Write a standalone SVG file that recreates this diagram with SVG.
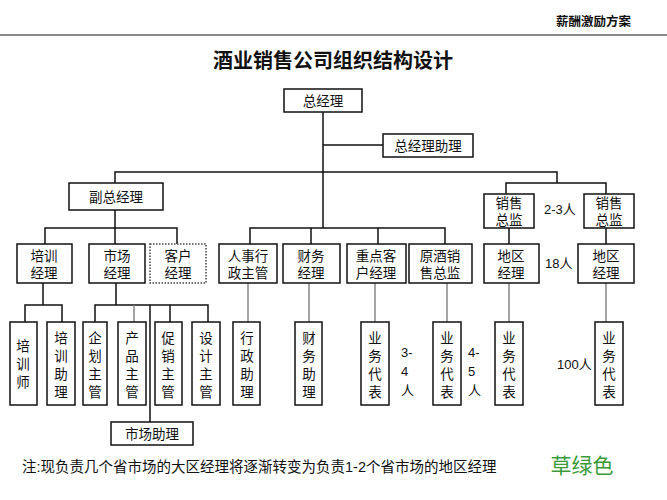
<svg xmlns="http://www.w3.org/2000/svg" width="667" height="500" viewBox="0 0 667 500">
<style>
rect{fill:#fff;stroke:#111;stroke-width:1.5}
.d{stroke-dasharray:1.5 1.5;stroke:#444}
text{font-family:"Liberation Sans","Noto Sans CJK SC",sans-serif;font-size:13.5px;fill:#111;text-anchor:middle}
.l{stroke:#111;stroke-width:1.5;fill:none}
.g{stroke:#888;stroke-width:1.5;fill:none}
.n{font-size:13px;text-anchor:start}
</style>
<rect x="0" y="0" width="667" height="500" style="stroke:none"/>
<text x="556" y="26" style="font-size:12.5px;font-weight:bold;text-anchor:start">薪酬激励方案</text>
<line x1="0" y1="35" x2="667" y2="35" class="l" style="stroke-width:1"/>
<text x="333" y="68" style="font-size:20px;font-weight:bold">酒业销售公司组织结构设计</text>
<g id="connectors">
<path class="l" d="M323 112V228M323 145H383M115 183V172H557V183M506 194V183H606V194M250 244V228H445V244M311 228V244M378 228V244"/>
<path class="l" d="M115 210V228M45 244V228H177V244M115 228V244M509 228V244M606 228V244"/>
<path class="l" d="M43 283V305M25 322V305H62V322M116 283V305M95 322V305H208V322M170 305V322M150 305V422"/>
<path class="g" d="M134 305V322M248 283V322M309 283V322M375 283V322M447 283V322M509 283V322M606 283V322"/>
</g>
<g id="n0"><rect x="284" y="89" width="78" height="23"/><text x="323" y="106">总经理</text></g>
<g id="n1"><rect x="383" y="134" width="90" height="23"/><text x="428" y="151">总经理助理</text></g>
<g id="n2"><rect x="69" y="183" width="94" height="27"/><text x="116" y="202">副总经理</text></g>
<g id="n3"><rect x="484" y="194" width="50" height="34"/><text x="509" y="208">销售</text><text x="509" y="225">总监</text></g>
<g id="n4"><rect x="584" y="194" width="50" height="34"/><text x="609" y="208">销售</text><text x="609" y="225">总监</text></g>
<text class="n" x="544" y="214">2-3人</text>
<g id="n5"><rect x="17" y="244" width="55" height="39"/><text x="44" y="261">培训</text><text x="44" y="278">经理</text></g>
<g id="n6"><rect x="89" y="244" width="56" height="39"/><text x="117" y="261">市场</text><text x="117" y="278">经理</text></g>
<g id="n7"><rect class="d" x="150" y="244" width="56" height="39"/><text x="178" y="261">客户</text><text x="178" y="278">经理</text></g>
<g id="n8"><rect x="219" y="244" width="58" height="39"/><text x="248" y="261">人事行</text><text x="248" y="278">政主管</text></g>
<g id="n9"><rect x="283" y="244" width="57" height="39"/><text x="311" y="261">财务</text><text x="311" y="278">经理</text></g>
<g id="n10"><rect x="347" y="244" width="59" height="39"/><text x="376" y="261">重点客</text><text x="376" y="278">户经理</text></g>
<g id="n11"><rect x="409" y="244" width="63" height="39"/><text x="440" y="261">原酒销</text><text x="440" y="278">售总监</text></g>
<g id="n12"><rect x="484" y="244" width="55" height="39"/><text x="511" y="261">地区</text><text x="511" y="278">经理</text></g>
<g id="n13"><rect x="578" y="244" width="56" height="39"/><text x="606" y="261">地区</text><text x="606" y="278">经理</text></g>
<text class="n" x="545" y="268">18人</text>
<g id="n14"><rect x="10" y="322" width="27" height="83"/><text x="23" y="351">培</text><text x="23" y="369">训</text><text x="23" y="387">师</text></g>
<g id="n15"><rect x="47" y="322" width="28" height="83"/><text x="61" y="343">培</text><text x="61" y="361">训</text><text x="61" y="379">助</text><text x="61" y="397">理</text></g>
<g id="n16"><rect x="83" y="322" width="24" height="83"/><text x="95" y="343">企</text><text x="95" y="361">划</text><text x="95" y="379">主</text><text x="95" y="397">管</text></g>
<g id="n17"><rect x="118" y="322" width="28" height="83"/><text x="132" y="343">产</text><text x="132" y="361">品</text><text x="132" y="379">主</text><text x="132" y="397">管</text></g>
<g id="n18"><rect x="155" y="322" width="27" height="83"/><text x="168" y="343">促</text><text x="168" y="361">销</text><text x="168" y="379">主</text><text x="168" y="397">管</text></g>
<g id="n19"><rect x="192" y="322" width="28" height="83"/><text x="206" y="343">设</text><text x="206" y="361">计</text><text x="206" y="379">主</text><text x="206" y="397">管</text></g>
<g id="n20"><rect x="233" y="322" width="27" height="83"/><text x="247" y="343">行</text><text x="247" y="361">政</text><text x="247" y="379">助</text><text x="247" y="397">理</text></g>
<g id="n21"><rect x="295" y="322" width="27" height="83"/><text x="309" y="343">财</text><text x="309" y="361">务</text><text x="309" y="379">助</text><text x="309" y="397">理</text></g>
<g id="n22"><rect x="361" y="322" width="28" height="83"/><text x="375" y="343">业</text><text x="375" y="361">务</text><text x="375" y="379">代</text><text x="375" y="397">表</text></g>
<g id="n23"><rect x="433" y="322" width="28" height="83"/><text x="447" y="343">业</text><text x="447" y="361">务</text><text x="447" y="379">代</text><text x="447" y="397">表</text></g>
<g id="n24"><rect x="495" y="322" width="28" height="83"/><text x="509" y="343">业</text><text x="509" y="361">务</text><text x="509" y="379">代</text><text x="509" y="397">表</text></g>
<g id="n25"><rect x="595" y="322" width="28" height="83"/><text x="609" y="343">业</text><text x="609" y="361">务</text><text x="609" y="379">代</text><text x="609" y="397">表</text></g>
<text class="n" x="401" y="357">3-</text><text class="n" x="401" y="376">4</text><text class="n" x="401" y="395">人</text>
<text class="n" x="468" y="357">4-</text><text class="n" x="468" y="376">5</text><text class="n" x="468" y="395">人</text>
<text class="n" x="557" y="369">100人</text>
<g id="n26"><rect x="111" y="422" width="82" height="23"/><text x="152" y="439">市场助理</text></g>
<text x="22" y="472" style="font-size:14.5px;text-anchor:start">注:现负责几个省市场的大区经理将逐渐转变为负责1-2个省市场的地区经理</text>
<text x="582" y="473" style="font-size:21px;fill:#3a9a3a">草绿色</text>
</svg>
